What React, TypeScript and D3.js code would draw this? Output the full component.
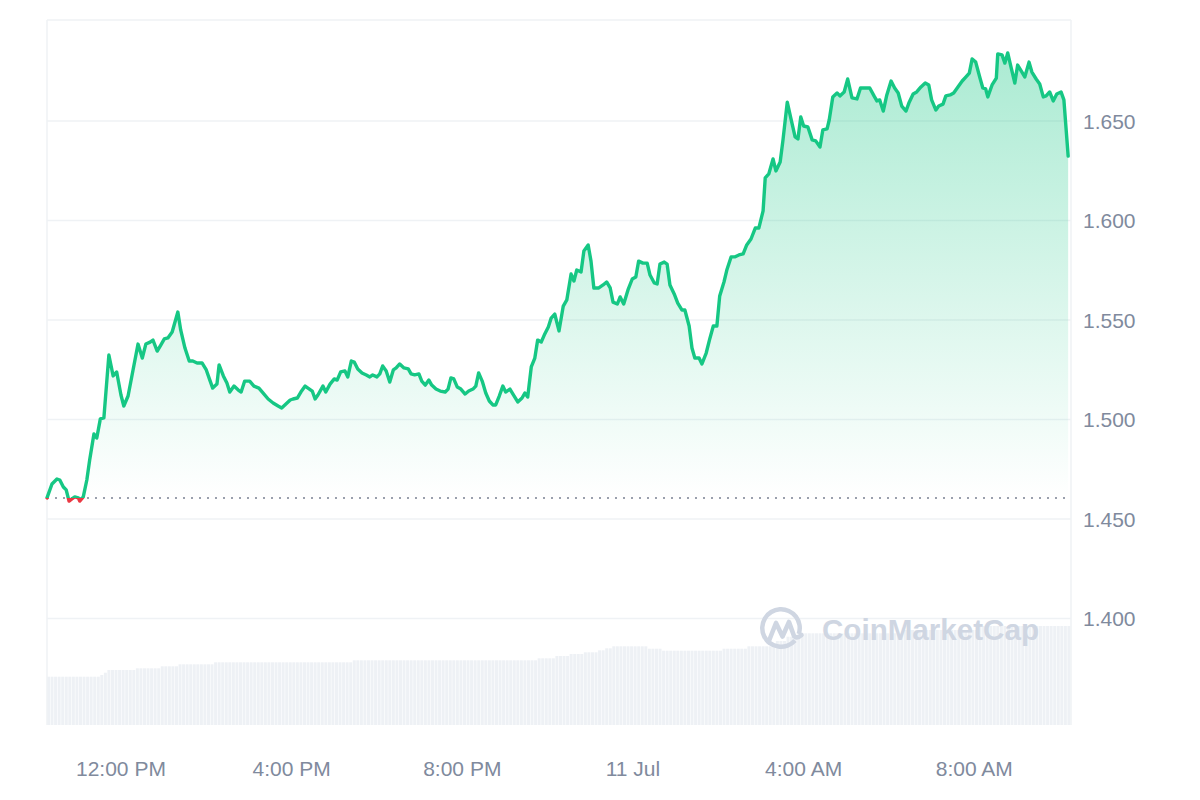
import React from 'react';
import * as d3 from 'd3';

// minutes since 00:00 on 10 Jul
const priceTimes = [
  616,623,630,634,639,643,647,651,655,660,662,667,672,676,682,686,691,696,703,709,714,720,724,730,737,744,750,755,761,765,771,776,781,786,792,796,800,804,810,816,821,827,834,840,845,849,855,858,864,869,873,879,885,889,894,901,907,914,920,927,934,941,946,952,958,962,968,973,979,983,989,993,997,1004,1008,1014,1020,1024,1029,1035,1039,1044,1048,1053,1059,1065,1070,1074,1080,1084,1088,1093,1098,1103,1107,1112,1118,1124,1128,1133,1139,1143,1148,1153,1157,1163,1169,1176,1180,1184,1188,1193,1198,1204,1209,1215,1219,1223,1228,1233,1238,1243,1247,1252,1257,1261,1267,1273,1278,1284,1288,1292,1297,1302,1306,1311,1316,1321,1325,1330,1336,1342,1347,1353,1357,1361,1367,1371,1377,1381,1385,1392,1398,1403,1408,1412,1418,1422,1427,1433,1439,1444,1448,1454,1460,1464,1470,1474,1478,1484,1488,1492,1498,1503,1509,1513,1519,1523,1527,1533,1537,1543,1548,1553,1558,1562,1568,1572,1578,1583,1589,1595,1600,1606,1612,1617,1623,1626,1631,1637,1641,1647,1651,1657,1662,1668,1672,1676,1680,1686,1692,1697,1703,1707,1713,1716,1721,1727,1731,1737,1742,1748,1755,1760,1768,1773,1779,1783,1787,1792,1797,1803,1808,1813,1818,1824,1828,1834,1839,1845,1851,1856,1860,1866,1870,1876,1880,1886,1891,1897,1903,1908,1913,1917,1922,1928,1932,1936,1939,1945,1951,1953,1959,1963,1967,1972,1977,1981,1987,1991,1997,2001,2007,2012,2017,2021,2026,2031,2036,2042,2046,2052,
];

const prices = [
  1.4606,1.4676,1.4701,1.4696,1.4661,1.4646,1.4590,1.4601,1.4611,1.4606,
  1.4590,1.4611,1.4696,1.4796,1.4927,1.4907,1.5003,1.5008,1.5324,1.5219,
  1.5239,1.5123,1.5068,1.5118,1.5249,1.5379,1.5309,1.5379,1.5389,1.5399,
  1.5344,1.5374,1.5405,1.5410,1.5440,1.5490,1.5540,1.5450,1.5359,1.5294,
  1.5294,1.5284,1.5284,1.5249,1.5198,1.5158,1.5178,1.5274,1.5219,1.5183,
  1.5138,1.5168,1.5148,1.5138,1.5193,1.5193,1.5168,1.5158,1.5133,1.5103,
  1.5083,1.5068,1.5058,1.5078,1.5098,1.5103,1.5108,1.5138,1.5168,1.5158,
  1.5143,1.5103,1.5123,1.5168,1.5138,1.5178,1.5204,1.5198,1.5239,1.5244,
  1.5214,1.5294,1.5289,1.5254,1.5234,1.5224,1.5214,1.5224,1.5214,1.5229,
  1.5269,1.5244,1.5188,1.5249,1.5259,1.5279,1.5259,1.5254,1.5229,1.5224,
  1.5229,1.5193,1.5173,1.5198,1.5173,1.5153,1.5143,1.5138,1.5153,1.5209,
  1.5204,1.5163,1.5153,1.5128,1.5143,1.5153,1.5168,1.5234,1.5193,1.5133,
  1.5093,1.5073,1.5073,1.5118,1.5168,1.5138,1.5153,1.5118,1.5088,1.5108,
  1.5133,1.5113,1.5264,1.5309,1.5399,1.5389,1.5430,1.5465,1.5510,1.5530,
  1.5445,1.5570,1.5601,1.5731,1.5696,1.5751,1.5741,1.5847,1.5877,1.5796,
  1.5661,1.5661,1.5676,1.5691,1.5661,1.5590,1.5580,1.5616,1.5580,1.5651,
  1.5706,1.5716,1.5796,1.5786,1.5786,1.5726,1.5686,1.5681,1.5781,1.5791,
  1.5781,1.5676,1.5631,1.5585,1.5550,1.5550,1.5470,1.5359,1.5309,1.5309,
  1.5279,1.5334,1.5405,1.5470,1.5470,1.5621,1.5691,1.5751,1.5817,1.5817,
  1.5827,1.5832,1.5877,1.5907,1.5962,1.5962,1.6048,1.6214,1.6234,1.6309,
  1.6249,1.6294,1.6405,1.6595,1.6515,1.6420,1.6410,1.6520,1.6475,1.6470,
  1.6405,1.6400,1.6369,1.6455,1.6460,1.6505,1.6621,1.6641,1.6626,1.6646,
  1.6711,1.6616,1.6611,1.6666,1.6666,1.6666,1.6626,1.6601,1.6606,1.6550,
  1.6631,1.6701,1.6666,1.6641,1.6575,1.6550,1.6590,1.6636,1.6646,1.6671,
  1.6691,1.6681,1.6606,1.6555,1.6575,1.6585,1.6626,1.6631,1.6641,1.6671,
  1.6701,1.6721,1.6741,1.6812,1.6796,1.6716,1.6666,1.6661,1.6621,1.6681,
  1.6716,1.6837,1.6832,1.6791,1.6842,1.6766,1.6691,1.6781,1.6746,1.6721,
  1.6796,1.6746,1.6711,1.6686,1.6621,1.6626,1.6646,1.6601,1.6636,1.6646,
  1.6606,1.6324,
];

// 5-minute volume bars (relative units) starting at 10:16
const volumeStartMinute = 616;
const volumeStepMinutes = 5;
const volumes = [
  48.3,48.3,48.3,48.3,48.3,48.3,48.3,48.3,48.3,48.3,
  48.3,48.3,48.3,48.3,48.3,50.0,52.3,55.0,55.0,55.0,
  55.0,55.0,55.0,55.0,55.0,56.7,56.7,56.7,56.7,56.7,
  56.7,56.7,58.7,58.7,58.7,58.7,58.7,60.7,60.7,60.7,
  60.7,60.7,60.7,60.7,60.7,60.7,60.7,62.7,62.7,62.7,
  62.7,62.7,62.7,62.7,62.7,62.7,62.7,62.7,62.7,62.7,
  62.7,62.7,62.7,62.7,62.7,62.7,62.7,62.7,62.7,62.7,
  62.7,62.7,62.7,62.7,62.7,62.7,62.7,62.7,62.7,62.7,
  62.7,62.7,62.7,62.7,62.7,62.7,64.7,64.7,64.7,64.7,
  64.7,64.7,64.7,64.7,64.7,64.7,64.7,64.7,64.7,64.7,
  64.7,64.7,64.7,64.7,64.7,64.7,64.7,64.7,64.7,64.7,
  64.7,64.7,64.7,64.7,64.7,64.7,64.7,64.7,64.7,64.7,
  64.7,64.7,64.7,64.7,64.7,64.7,64.7,64.7,64.7,64.7,
  64.7,64.7,64.7,64.7,64.7,64.7,64.7,64.7,66.7,66.7,
  66.7,66.7,66.7,69.0,69.0,69.0,69.0,71.0,71.0,71.0,
  71.0,72.7,72.7,72.7,72.7,74.7,74.7,76.7,76.7,78.7,
  78.7,78.7,78.7,78.7,78.7,78.7,78.7,78.7,78.7,76.3,
  76.3,76.3,76.3,74.3,74.3,74.3,74.3,74.3,74.3,74.3,
  74.3,74.3,74.3,74.3,74.3,74.3,74.3,74.3,74.3,74.3,
  76.3,76.3,76.3,76.3,76.3,76.3,76.3,78.7,78.7,78.7,
  78.7,78.7,78.7,78.7,78.7,84.0,84.0,84.0,88.3,88.3,
  88.3,88.3,91.7,91.7,91.7,91.7,91.7,91.7,91.7,91.7,
  91.7,91.7,91.7,91.7,91.7,91.7,91.7,91.7,91.7,91.7,
  91.7,91.7,91.7,91.7,91.7,91.7,91.7,91.7,91.7,91.7,
  91.7,95.0,95.0,95.0,95.0,95.0,95.0,95.0,95.0,95.0,
  95.0,95.0,95.0,95.0,95.0,95.0,95.0,95.0,95.0,95.0,
  95.0,95.0,99.0,99.0,99.0,99.0,99.0,99.0,99.0,99.0,
  99.0,99.0,99.0,99.0,99.0,99.0,99.0,99.0,99.0,99.0,
  99.0,99.0,99.0,99.0,99.0,99.0,99.0,99.0,
];

const yTicks = [1.4, 1.45, 1.5, 1.55, 1.6, 1.65];
const xTickMinutes = [720, 960, 1200, 1440, 1680, 1920];
const xTickLabels = ['12:00 PM', '4:00 PM', '8:00 PM', '11 Jul', '4:00 AM', '8:00 AM'];

const GREEN = '#16c784';
const RED = '#ea3943';
const GRID = '#eff2f5';
const AXIS_TEXT = '#808a9d';
const WM = '#cfd6e2';
const FONT = '"Liberation Sans", Arial, Helvetica, sans-serif';

export default function App() {
  const W = 1200, H = 800;
  const left = 47, right = 1071, top = 20, bottom = 725;

  const x = d3.scaleLinear().domain([616, 2056]).range([left, right]);
  const y = d3.scaleLinear().domain([1.45, 1.65]).range([519, 121]);
  const vy = d3.scaleLinear().domain([0, 100]).range([bottom, bottom - 100]);

  const n = Math.min(priceTimes.length, prices.length);
  const pts: [number, number][] = d3.range(n).map((i) => [priceTimes[i], prices[i]]);
  const base = prices[0];
  const by = y(base);
  const maxY = y(d3.max(prices) as number);

  const line = d3.line<[number, number]>().x((d) => x(d[0])).y((d) => y(d[1]));
  const area = d3.area<[number, number]>().x((d) => x(d[0])).y0(by).y1((d) => y(d[1]));

  const barW = x(volumeStartMinute + volumeStepMinutes) - x(volumeStartMinute);

  // watermark logo geometry (decoration, not data)
  const lcx = 781, lcy = 628;
  const ringArc = d3.arc()({ innerRadius: 16.5, outerRadius: 21, startAngle: 2.3, endAngle: 2 * Math.PI + 1.9 } as any) as string;

  return (
    <div style={{ position: 'absolute', left: 0, top: 0 }}>
      <svg width={W} height={H} style={{ display: 'block', background: '#fff' }}>
        <defs>
          <linearGradient id="gUp" gradientUnits="userSpaceOnUse" x1="0" y1={maxY} x2="0" y2={by}>
            <stop offset="0%" stopColor={GREEN} stopOpacity={0.36} />
            <stop offset="100%" stopColor={GREEN} stopOpacity={0.0} />
          </linearGradient>
          <linearGradient id="gDown" gradientUnits="userSpaceOnUse" x1="0" y1={by} x2="0" y2={by + 20}>
            <stop offset="0%" stopColor={RED} stopOpacity={0.0} />
            <stop offset="100%" stopColor={RED} stopOpacity={0.25} />
          </linearGradient>
          <clipPath id="clipUp">
            <rect x={0} y={0} width={W} height={by} />
          </clipPath>
          <clipPath id="clipDown">
            <rect x={0} y={by} width={W} height={H - by} />
          </clipPath>
        </defs>

        {/* volume bars */}
        <g>
          {volumes.map((v, i) => (
            <rect
              key={i}
              x={x(volumeStartMinute + i * volumeStepMinutes)}
              y={vy(v)}
              width={Math.max(0, barW - 0.6)}
              height={bottom - vy(v)}
              fill="#eef1f5"
            />
          ))}
        </g>

        {/* grid */}
        <g>
          {yTicks.map((t) => (
            <line key={t} x1={left} x2={right} y1={y(t)} y2={y(t)} stroke={GRID} strokeWidth={1.5} />
          ))}
          <line x1={left} x2={right} y1={top} y2={top} stroke={GRID} strokeWidth={1.5} />
          <line x1={left} x2={left} y1={top} y2={bottom} stroke={GRID} strokeWidth={1.5} />
          <line x1={right} x2={right} y1={top} y2={bottom} stroke={GRID} strokeWidth={1.5} />
        </g>

        {/* watermark */}
        <g>
          <path d={ringArc} transform={`translate(${lcx},${lcy})`} fill={WM} stroke="none" />
          <path
            d={`M${lcx - 12.5},${lcy + 14} L${lcx - 5},${lcy - 5} L${lcx + 1.5},${lcy + 8.5} L${lcx + 8},${lcy - 6} L${lcx + 13},${lcy + 8} Q${lcx + 16},${lcy + 11} ${lcx + 20.5},${lcy + 7}`}
            fill="none"
            stroke={WM}
            strokeWidth={4.6}
            strokeLinejoin="round"
            strokeLinecap="round"
          />
        </g>
        <text
          x={822}
          y={640}
          fontFamily={FONT}
          fontWeight={700}
          fontSize={30}
          fill={WM}
          textLength={217}
          lengthAdjust="spacingAndGlyphs"
        >
          CoinMarketCap
        </text>

        {/* area + line */}
        <path d={area(pts) as string} fill="url(#gUp)" clipPath="url(#clipUp)" />
        <path d={area(pts) as string} fill="url(#gDown)" clipPath="url(#clipDown)" />
        <line x1={left} x2={right} y1={by} y2={by} stroke="#9aa0ad" strokeWidth={2} strokeDasharray="2 6" />
        <path d={line(pts) as string} fill="none" stroke={GREEN} strokeWidth={3.4} strokeLinejoin="round" strokeLinecap="round" clipPath="url(#clipUp)" />
        <path d={line(pts) as string} fill="none" stroke={RED} strokeWidth={3.4} strokeLinejoin="round" strokeLinecap="round" clipPath="url(#clipDown)" />

        {/* y axis labels */}
        <g fontFamily={FONT} fontSize={21} fill={AXIS_TEXT}>
          {yTicks.map((t) => (
            <text key={t} x={1083} y={y(t)} dominantBaseline="central">
              {d3.format('.3f')(t)}
            </text>
          ))}
        </g>

        {/* x axis labels */}
        <g fontFamily={FONT} fontSize={21} fill={AXIS_TEXT} textAnchor="middle">
          {xTickMinutes.map((m, i) => (
            <text key={m} x={x(m)} y={768} dominantBaseline="central">
              {xTickLabels[i]}
            </text>
          ))}
        </g>
      </svg>
    </div>
  );
}
